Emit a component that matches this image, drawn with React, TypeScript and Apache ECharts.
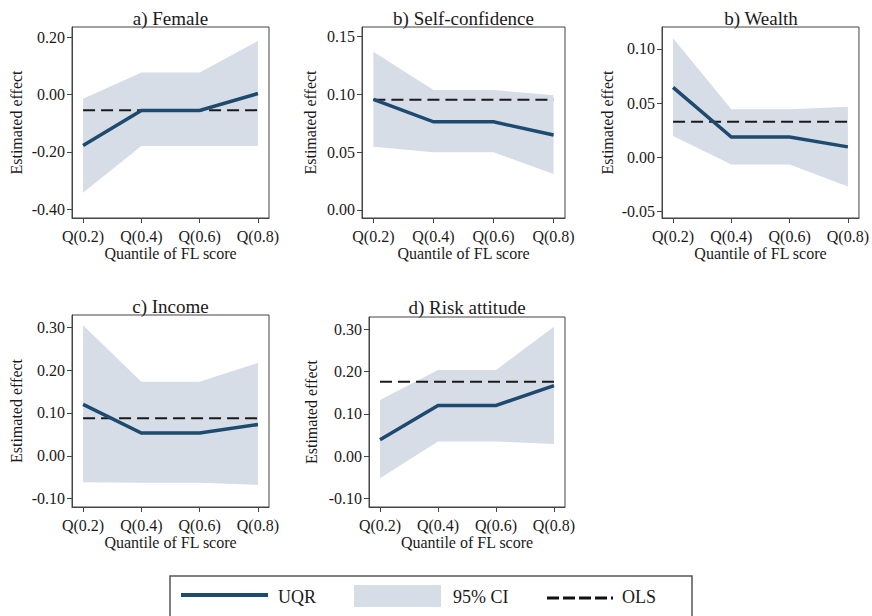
import React, { useEffect, useRef } from "react";
import * as echarts from "echarts";

const quantiles = [0.2, 0.4, 0.6, 0.8];

const panelTitles = ["a) Female", "b) Self-confidence", "b) Wealth", "c) Income", "d) Risk attitude"];

const femaleUqr = [-0.178, -0.056, -0.056, 0.003];
const femaleLo = [-0.343, -0.18, -0.18, -0.18];
const femaleHi = [-0.015, 0.076, 0.076, 0.186];
const femaleOls = -0.055;
const femaleTicks = [-0.4, -0.2, 0, 0.2];

const confUqr = [0.0954, 0.076, 0.076, 0.0647];
const confLo = [0.0546, 0.0497, 0.0497, 0.031];
const confHi = [0.1365, 0.1034, 0.1034, 0.099];
const confOls = 0.095;
const confTicks = [0, 0.05, 0.1, 0.15];

const wealthUqr = [0.0645, 0.0186, 0.0186, 0.0096];
const wealthLo = [0.0196, -0.0068, -0.0068, -0.027];
const wealthHi = [0.11, 0.0444, 0.0444, 0.0466];
const wealthOls = 0.0329;
const wealthTicks = [-0.05, 0, 0.05, 0.1];

const incomeUqr = [0.12, 0.053, 0.053, 0.073];
const incomeLo = [-0.062, -0.063, -0.063, -0.068];
const incomeHi = [0.305, 0.173, 0.173, 0.217];
const incomeOls = 0.0875;
const incomeTicks = [-0.1, 0, 0.1, 0.2, 0.3];

const riskUqr = [0.039, 0.12, 0.12, 0.167];
const riskLo = [-0.052, 0.035, 0.035, 0.029];
const riskHi = [0.133, 0.204, 0.204, 0.306];
const riskOls = 0.176;
const riskTicks = [-0.1, 0, 0.1, 0.2, 0.3];

const legendLabels = ["UQR", "95% CI", "OLS"];
const xAxisName = "Quantile of FL score";
const yAxisName = "Estimated effect";

const FONT = "'Liberation Serif', 'Times New Roman', serif";
const TEXT = "#1a1a1a";
const AXIS = "#444";
const NAVY = "#1f4a70";
const CI = "#d6dde7";

const panels = [
  { uqr: femaleUqr, lo: femaleLo, hi: femaleHi, ols: femaleOls, ticks: femaleTicks },
  { uqr: confUqr, lo: confLo, hi: confHi, ols: confOls, ticks: confTicks },
  { uqr: wealthUqr, lo: wealthLo, hi: wealthHi, ols: wealthOls, ticks: wealthTicks },
  { uqr: incomeUqr, lo: incomeLo, hi: incomeHi, ols: incomeOls, ticks: incomeTicks },
  { uqr: riskUqr, lo: riskLo, hi: riskHi, ols: riskOls, ticks: riskTicks },
];

// layout (pixels)
const layout = [
  { left: 72, top: 27, width: 197, height: 191, ymin: -0.431, ymax: 0.235, nameGap: 48, titleY: 18 },
  { left: 362, top: 27, width: 203, height: 191, ymin: -0.0069, ymax: 0.1578, nameGap: 44, titleY: 18 },
  { left: 662, top: 27, width: 198, height: 191, ymin: -0.0561, ymax: 0.1203, nameGap: 47, titleY: 18 },
  { left: 72, top: 315, width: 197, height: 192, ymin: -0.1196, ymax: 0.3288, nameGap: 48, titleY: 306 },
  { left: 369, top: 317, width: 196, height: 190, ymin: -0.12, ymax: 0.329, nameGap: 50, titleY: 307 },
];

export default function App() {
  const ref = useRef<HTMLDivElement>(null);
  useEffect(() => {
    document.body.style.margin = "0";
    const chart = echarts.init(ref.current!, null, { renderer: "svg" });

    const grid: any[] = [];
    const xAxis: any[] = [];
    const yAxis: any[] = [];
    const series: any[] = [];
    const graphic: any[] = [];

    panels.forEach((p, k) => {
      const L = layout[k];
      grid.push({
        left: L.left,
        top: L.top,
        width: L.width,
        height: L.height,
        show: true,
        borderColor: AXIS,
        borderWidth: 1,
        backgroundColor: "#fff",
        containLabel: false,
      });
      xAxis.push({
        type: "value",
        gridIndex: k,
        min: 0.162,
        max: 0.838,
        name: xAxisName,
        nameLocation: "middle",
        nameGap: 27,
        nameTextStyle: { fontFamily: FONT, fontSize: 16, color: TEXT },
        axisLine: { show: true, onZero: false, lineStyle: { color: AXIS, width: 1 } },
        axisTick: { show: true, length: 5, customValues: quantiles, lineStyle: { color: AXIS } },
        axisLabel: {
          customValues: quantiles,
          formatter: (v: number) => "Q(" + v + ")",
          fontFamily: FONT,
          fontSize: 16,
          color: TEXT,
          margin: 10,
          hideOverlap: false,
        },
        splitLine: { show: false },
      });
      yAxis.push({
        type: "value",
        gridIndex: k,
        min: L.ymin,
        max: L.ymax,
        name: yAxisName,
        nameLocation: "middle",
        nameGap: L.nameGap,
        nameTextStyle: { fontFamily: FONT, fontSize: 16, color: TEXT },
        axisLine: { show: true, onZero: false, lineStyle: { color: AXIS, width: 1 } },
        axisTick: { show: true, length: 5, customValues: p.ticks, lineStyle: { color: AXIS } },
        axisLabel: {
          customValues: p.ticks,
          formatter: (v: number) => v.toFixed(2),
          fontFamily: FONT,
          fontSize: 16,
          color: TEXT,
          margin: 7,
          hideOverlap: false,
        },
        splitLine: { show: false },
      });

      const lo = p.lo;
      const hi = p.hi;
      series.push({
        type: "custom",
        name: legendLabels[1],
        xAxisIndex: k,
        yAxisIndex: k,
        z: 1,
        silent: true,
        data: quantiles.map((q, i) => [q, lo[i], hi[i]]),
        encode: { x: 0, y: [1, 2] },
        renderItem: (params: any, api: any) => {
          if (params.dataIndex !== 0) return null;
          const pts: number[][] = [];
          for (let i = 0; i < quantiles.length; i++) pts.push(api.coord([quantiles[i], hi[i]]));
          for (let i = quantiles.length - 1; i >= 0; i--) pts.push(api.coord([quantiles[i], lo[i]]));
          return { type: "polygon", shape: { points: pts }, style: { fill: CI, stroke: null } };
        },
      });
      series.push({
        type: "line",
        name: legendLabels[2],
        xAxisIndex: k,
        yAxisIndex: k,
        z: 2,
        symbol: "none",
        showSymbol: false,
        data: [
          [quantiles[0], p.ols],
          [quantiles[quantiles.length - 1], p.ols],
        ],
        lineStyle: { color: "#1a1a1a", width: 2, type: [12, 6] },
      });
      series.push({
        type: "line",
        name: legendLabels[0],
        xAxisIndex: k,
        yAxisIndex: k,
        z: 3,
        symbol: "none",
        showSymbol: false,
        data: quantiles.map((q, i) => [q, p.uqr[i]]),
        lineStyle: { color: NAVY, width: 3.5, cap: "butt", join: "miter" },
      });

      graphic.push({
        type: "text",
        x: L.left + L.width / 2,
        y: L.titleY,
        style: {
          text: panelTitles[k],
          fontFamily: FONT,
          fontSize: 19,
          fill: TEXT,
          textAlign: "center",
          textVerticalAlign: "middle",
        },
      });
    });

    // legend box
    graphic.push(
      {
        type: "rect",
        shape: { x: 170, y: 576, width: 522, height: 60 },
        style: { fill: "#fff", stroke: "#555", lineWidth: 1.5 },
      },
      {
        type: "line",
        shape: { x1: 181, y1: 595, x2: 268, y2: 595 },
        style: { stroke: NAVY, lineWidth: 4 },
      },
      {
        type: "text",
        x: 278,
        y: 597,
        style: { text: legendLabels[0], fontFamily: FONT, fontSize: 18, fill: TEXT, textVerticalAlign: "middle" },
      },
      {
        type: "rect",
        shape: { x: 354, y: 585, width: 87, height: 22 },
        style: { fill: CI },
      },
      {
        type: "text",
        x: 453,
        y: 597,
        style: { text: legendLabels[1], fontFamily: FONT, fontSize: 18, fill: TEXT, textVerticalAlign: "middle" },
      },
      {
        type: "line",
        shape: { x1: 547, y1: 598, x2: 613, y2: 598 },
        style: { stroke: "#111", lineWidth: 3, lineDash: [12, 4] },
      },
      {
        type: "text",
        x: 622,
        y: 597,
        style: { text: legendLabels[2], fontFamily: FONT, fontSize: 18, fill: TEXT, textVerticalAlign: "middle" },
      }
    );

    chart.setOption({
      animation: false,
      backgroundColor: "#fff",
      grid,
      xAxis,
      yAxis,
      series,
      graphic,
    });
    return () => chart.dispose();
  }, []);
  return <div ref={ref} style={{ width: 872, height: 616 }} />;
}
